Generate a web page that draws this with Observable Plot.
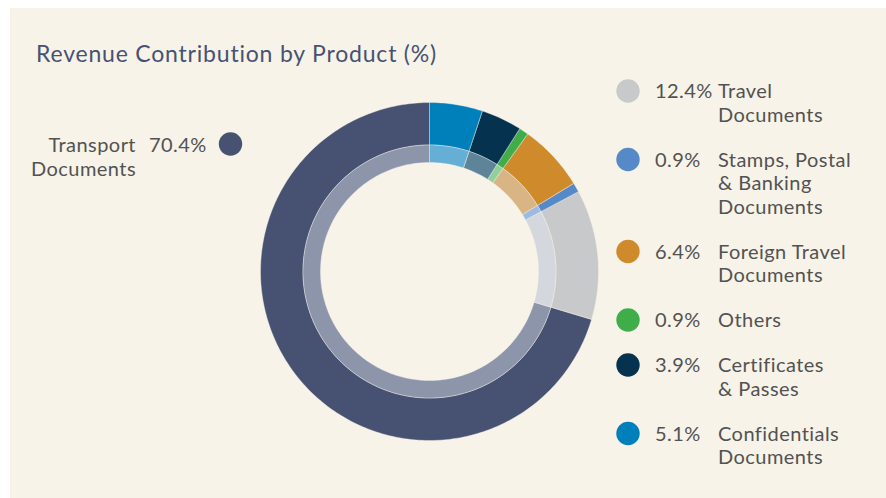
<!DOCTYPE html>
<html>
<head>
<meta charset="utf-8">
<script src="https://cdn.jsdelivr.net/npm/d3@7"></script>
<script src="https://cdn.jsdelivr.net/npm/@observablehq/plot@0.6"></script>
<style>
  html, body { margin: 0; padding: 0; background: #ffffff; }
  #page { position: relative; width: 886px; height: 498px; overflow: hidden; background: #ffffff; }
  #panel { position: absolute; left: 10px; top: 8px; width: 876px; height: 490px; background: #f7f3e8; }
  #chart, #overlay { position: absolute; left: 0; top: 0; }
</style>
</head>
<body>
<div id="page">
  <div id="panel"></div>
  <div id="chart"></div>
  <svg id="overlay" width="886" height="498"></svg>
</div>
<script>
// ---- data (clockwise from 12 o'clock) ----
const categories = ["Confidentials Documents", "Certificates & Passes", "Others", "Foreign Travel Documents", "Stamps, Postal & Banking Documents", "Travel Documents", "Transport Documents"];
const values = [5.1, 3.9, 0.9, 6.4, 0.9, 12.4, 70.4];
const labelLines = [
  ["Confidentials", "Documents"],
  ["Certificates", "& Passes"],
  ["Others"],
  ["Foreign Travel", "Documents"],
  ["Stamps, Postal", "& Banking", "Documents"],
  ["Travel", "Documents"],
  ["Transport", "Documents"]
];
const outerColors = ["#0080bb", "#05334f", "#3fae4a", "#cf8a2b", "#5689c8", "#c8c9cb", "#475272"];
const innerColors = ["#65afd6", "#5e8499", "#90d09b", "#d9b585", "#9cbbe1", "#d4d7dd", "#8d95ab"];
const legendOrder = [5, 4, 3, 2, 1, 0]; // right-hand legend, top to bottom
const leftItem = 6;
const title = "Revenue Contribution by Product (%)";

// ---- build ring polygons in unit-circle data space ----
const R_OUT = 1, R_MID = 126.5 / 169, R_IN = 109 / 169;
const total = d3.sum(values);
const cum = d3.cumsum(values);
const rows = [];
values.forEach((v, i) => {
  const a0 = (cum[i] - v) / total, a1 = cum[i] / total;
  const n = Math.max(4, Math.ceil((a1 - a0) * 360));
  [["outer", R_OUT, R_MID, outerColors[i]], ["inner", R_MID, R_IN, innerColors[i]]].forEach(([ring, r1, r2, col]) => {
    const key = categories[i] + "|" + ring;
    for (let k = 0; k <= n; k++) {
      const t = 2 * Math.PI * (a0 + (a1 - a0) * k / n);
      rows.push({key, col, x: r1 * Math.sin(t), y: r1 * Math.cos(t)});
    }
    for (let k = n; k >= 0; k--) {
      const t = 2 * Math.PI * (a0 + (a1 - a0) * k / n);
      rows.push({key, col, x: r2 * Math.sin(t), y: r2 * Math.cos(t)});
    }
  });
});

const cx = 429, cy = 271, rr = 169;
const chart = Plot.plot({
  width: 886,
  height: 498,
  margin: 0,
  style: {background: "transparent", overflow: "visible"},
  x: {domain: [-1, 1], range: [cx - rr, cx + rr], axis: null},
  y: {domain: [-1, 1], range: [cy + rr, cy - rr], axis: null},
  marks: [
    Plot.line(rows, {x: "x", y: "y", z: "key", fill: "col", stroke: "#f7f3e8", strokeWidth: 0.4, curve: "linear-closed"})
  ]
});
document.getElementById("chart").appendChild(chart);

// ---- title and legend ----
const svg = d3.select("#overlay");
const FONT = "Lato, 'Open Sans', sans-serif";
const TEXT = "#525252";
svg.append("text")
  .attr("x", 36).attr("y", 62)
  .attr("font-family", FONT).attr("font-size", 23)
  .attr("letter-spacing", 0.8)
  .attr("fill", "#475272")
  .text(title);

const fmt = v => v.toFixed(1) + "%";
const LH = 23.5, GAP = 45, FS = 20, LS = 0.45;
function txt(sel, x, y, s, anchor) {
  return sel.append("text").attr("x", x).attr("y", y)
    .attr("font-family", FONT).attr("font-size", FS).attr("letter-spacing", LS)
    .attr("fill", TEXT).attr("text-anchor", anchor || "start").text(s);
}
let base = 98;
legendOrder.forEach(i => {
  const g = svg.append("g");
  g.append("circle").attr("cx", 628).attr("cy", base - 7).attr("r", 11.7).attr("fill", outerColors[i]);
  txt(g, 655, base, fmt(values[i]));
  labelLines[i].forEach((line, j) => txt(g, 718, base + j * LH, line));
  base += (labelLines[i].length - 1) * LH + GAP;
});

// left label (largest slice)
const lb = 152;
svg.append("circle").attr("cx", 230.5).attr("cy", lb - 8).attr("r", 11.7).attr("fill", outerColors[leftItem]);
txt(svg, 149, lb, fmt(values[leftItem]));
labelLines[leftItem].forEach((line, j) => txt(svg, 136, lb + j * LH, line, "end"));
</script>
</body>
</html>
